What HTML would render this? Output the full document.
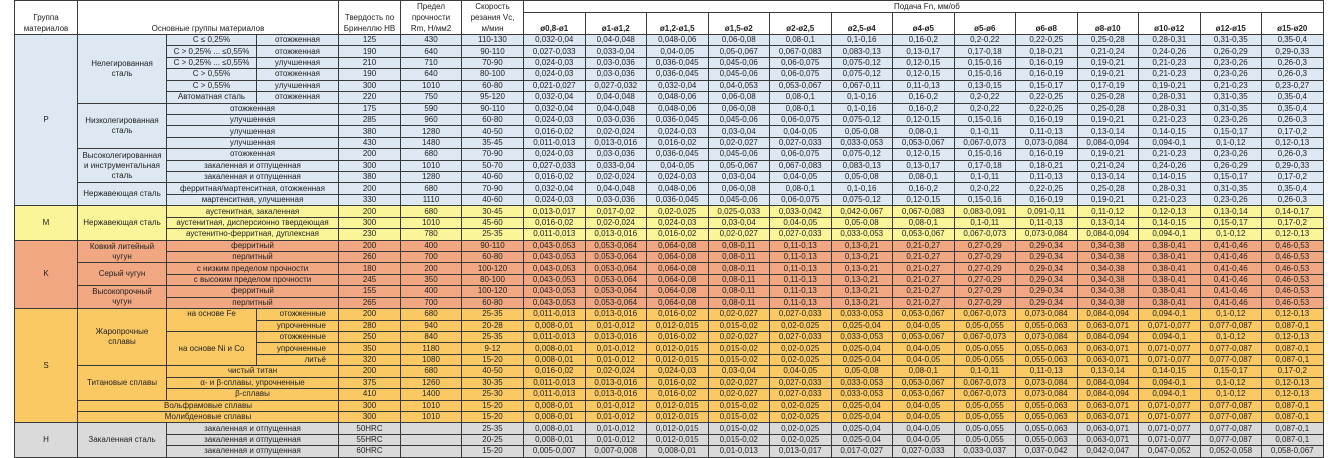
<!DOCTYPE html>
<html><head><meta charset="utf-8"><style>
body{margin:0;width:1334px;height:458px;background:#fff;overflow:hidden;font-family:"Liberation Sans",Arial,sans-serif;}
table{position:absolute;left:14px;top:0;border-collapse:collapse;table-layout:fixed;font-size:8px;color:#222;}
td{border:1px solid #3a3a3a;padding:0;text-align:center;white-space:nowrap;overflow:hidden;line-height:10px;}
tr.d{height:11.43px}
.p td{background:#dde8f3}.m td{background:#fbf59a}.k td{background:#f1a782}.s td{background:#fbc964}.h td{background:#dadada}
.hd td{background:#fff}
</style></head><body>
<table>
<colgroup><col style="width:63px"><col style="width:89px"><col style="width:90px"><col style="width:82px"><col style="width:62px"><col style="width:61px"><col style="width:62px">
<col style="width:61.5px"><col style="width:61.5px"><col style="width:61.5px"><col style="width:61.5px"><col style="width:61.5px"><col style="width:61.5px"><col style="width:61.5px"><col style="width:61.5px"><col style="width:61.5px"><col style="width:61.5px"><col style="width:61.5px"><col style="width:61.5px"><col style="width:61.5px"></colgroup>
<tr class="hd" style="height:12px"><td rowspan="2" style="vertical-align:bottom;line-height:11px">Группа<br>материалов</td><td rowspan="2" colspan="3" style="vertical-align:bottom">Основные группы материалов</td><td rowspan="2" style="vertical-align:bottom;line-height:11px">Твердость по<br>Бринеллю HB</td><td rowspan="2" style="vertical-align:bottom;line-height:11px">Предел<br>прочности<br>Rm, Н/мм2</td><td rowspan="2" style="vertical-align:bottom;line-height:11px">Скорость<br>резания Vc,<br>м/мин</td><td colspan="13" style="text-align:left;padding-left:370px">Подача Fn, мм/об</td></tr>
<tr class="hd" style="height:22px;font-weight:bold"><td style="vertical-align:bottom">ø0,8-ø1</td><td style="vertical-align:bottom">ø1-ø1,2</td><td style="vertical-align:bottom">ø1,2-ø1,5</td><td style="vertical-align:bottom">ø1,5-ø2</td><td style="vertical-align:bottom">ø2-ø2,5</td><td style="vertical-align:bottom">ø2,5-ø4</td><td style="vertical-align:bottom">ø4-ø5</td><td style="vertical-align:bottom">ø5-ø6</td><td style="vertical-align:bottom">ø6-ø8</td><td style="vertical-align:bottom">ø8-ø10</td><td style="vertical-align:bottom">ø10-ø12</td><td style="vertical-align:bottom">ø12-ø15</td><td style="vertical-align:bottom">ø15-ø20</td></tr>

<tr class="d p"><td rowspan="15">P</td><td rowspan="6">Нелегированная<br>сталь</td><td>C ≤ 0,25%</td><td>отожженная</td><td>125</td><td>430</td><td>110-130</td><td>0,032-0,04</td><td>0,04-0,048</td><td>0,048-0,06</td><td>0,06-0,08</td><td>0,08-0,1</td><td>0,1-0,16</td><td>0,16-0,2</td><td>0,2-0,22</td><td>0,22-0,25</td><td>0,25-0,28</td><td>0,28-0,31</td><td>0,31-0,35</td><td>0,35-0,4</td></tr>
<tr class="d p"><td>C &gt; 0,25% ... ≤0,55%</td><td>отожженная</td><td>190</td><td>640</td><td>90-110</td><td>0,027-0,033</td><td>0,033-0,04</td><td>0,04-0,05</td><td>0,05-0,067</td><td>0,067-0,083</td><td>0,083-0,13</td><td>0,13-0,17</td><td>0,17-0,18</td><td>0,18-0,21</td><td>0,21-0,24</td><td>0,24-0,26</td><td>0,26-0,29</td><td>0,29-0,33</td></tr>
<tr class="d p"><td>C &gt; 0,25% ... ≤0,55%</td><td>улучшенная</td><td>210</td><td>710</td><td>70-90</td><td>0,024-0,03</td><td>0,03-0,036</td><td>0,036-0,045</td><td>0,045-0,06</td><td>0,06-0,075</td><td>0,075-0,12</td><td>0,12-0,15</td><td>0,15-0,16</td><td>0,16-0,19</td><td>0,19-0,21</td><td>0,21-0,23</td><td>0,23-0,26</td><td>0,26-0,3</td></tr>
<tr class="d p"><td>C &gt; 0,55%</td><td>отожженная</td><td>190</td><td>640</td><td>80-100</td><td>0,024-0,03</td><td>0,03-0,036</td><td>0,036-0,045</td><td>0,045-0,06</td><td>0,06-0,075</td><td>0,075-0,12</td><td>0,12-0,15</td><td>0,15-0,16</td><td>0,16-0,19</td><td>0,19-0,21</td><td>0,21-0,23</td><td>0,23-0,26</td><td>0,26-0,3</td></tr>
<tr class="d p"><td>C &gt; 0,55%</td><td>улучшенная</td><td>300</td><td>1010</td><td>60-80</td><td>0,021-0,027</td><td>0,027-0,032</td><td>0,032-0,04</td><td>0,04-0,053</td><td>0,053-0,067</td><td>0,067-0,11</td><td>0,11-0,13</td><td>0,13-0,15</td><td>0,15-0,17</td><td>0,17-0,19</td><td>0,19-0,21</td><td>0,21-0,23</td><td>0,23-0,27</td></tr>
<tr class="d p"><td>Автоматная сталь</td><td>отожженная</td><td>220</td><td>750</td><td>95-120</td><td>0,032-0,04</td><td>0,04-0,048</td><td>0,048-0,06</td><td>0,06-0,08</td><td>0,08-0,1</td><td>0,1-0,16</td><td>0,16-0,2</td><td>0,2-0,22</td><td>0,22-0,25</td><td>0,25-0,28</td><td>0,28-0,31</td><td>0,31-0,35</td><td>0,35-0,4</td></tr>
<tr class="d p"><td rowspan="4">Низколегированная<br>сталь</td><td colspan="2">отожженная</td><td>175</td><td>590</td><td>90-110</td><td>0,032-0,04</td><td>0,04-0,048</td><td>0,048-0,06</td><td>0,06-0,08</td><td>0,08-0,1</td><td>0,1-0,16</td><td>0,16-0,2</td><td>0,2-0,22</td><td>0,22-0,25</td><td>0,25-0,28</td><td>0,28-0,31</td><td>0,31-0,35</td><td>0,35-0,4</td></tr>
<tr class="d p"><td colspan="2">улучшенная</td><td>285</td><td>960</td><td>60-80</td><td>0,024-0,03</td><td>0,03-0,036</td><td>0,036-0,045</td><td>0,045-0,06</td><td>0,06-0,075</td><td>0,075-0,12</td><td>0,12-0,15</td><td>0,15-0,16</td><td>0,16-0,19</td><td>0,19-0,21</td><td>0,21-0,23</td><td>0,23-0,26</td><td>0,26-0,3</td></tr>
<tr class="d p"><td colspan="2">улучшенная</td><td>380</td><td>1280</td><td>40-50</td><td>0,016-0,02</td><td>0,02-0,024</td><td>0,024-0,03</td><td>0,03-0,04</td><td>0,04-0,05</td><td>0,05-0,08</td><td>0,08-0,1</td><td>0,1-0,11</td><td>0,11-0,13</td><td>0,13-0,14</td><td>0,14-0,15</td><td>0,15-0,17</td><td>0,17-0,2</td></tr>
<tr class="d p"><td colspan="2">улучшенная</td><td>430</td><td>1480</td><td>35-45</td><td>0,011-0,013</td><td>0,013-0,016</td><td>0,016-0,02</td><td>0,02-0,027</td><td>0,027-0,033</td><td>0,033-0,053</td><td>0,053-0,067</td><td>0,067-0,073</td><td>0,073-0,084</td><td>0,084-0,094</td><td>0,094-0,1</td><td>0,1-0,12</td><td>0,12-0,13</td></tr>
<tr class="d p"><td rowspan="3">Высоколегированная<br>и инструментальная<br>сталь</td><td colspan="2">отожженная</td><td>200</td><td>680</td><td>70-90</td><td>0,024-0,03</td><td>0,03-0,036</td><td>0,036-0,045</td><td>0,045-0,06</td><td>0,06-0,075</td><td>0,075-0,12</td><td>0,12-0,15</td><td>0,15-0,16</td><td>0,16-0,19</td><td>0,19-0,21</td><td>0,21-0,23</td><td>0,23-0,26</td><td>0,26-0,3</td></tr>
<tr class="d p"><td colspan="2">закаленная и отпущенная</td><td>300</td><td>1010</td><td>50-70</td><td>0,027-0,033</td><td>0,033-0,04</td><td>0,04-0,05</td><td>0,05-0,067</td><td>0,067-0,083</td><td>0,083-0,13</td><td>0,13-0,17</td><td>0,17-0,18</td><td>0,18-0,21</td><td>0,21-0,24</td><td>0,24-0,26</td><td>0,26-0,29</td><td>0,29-0,33</td></tr>
<tr class="d p"><td colspan="2">закаленная и отпущенная</td><td>380</td><td>1280</td><td>40-60</td><td>0,016-0,02</td><td>0,02-0,024</td><td>0,024-0,03</td><td>0,03-0,04</td><td>0,04-0,05</td><td>0,05-0,08</td><td>0,08-0,1</td><td>0,1-0,11</td><td>0,11-0,13</td><td>0,13-0,14</td><td>0,14-0,15</td><td>0,15-0,17</td><td>0,17-0,2</td></tr>
<tr class="d p"><td rowspan="2">Нержавеющая сталь</td><td colspan="2">ферритная/мартенситная, отожженная</td><td>200</td><td>680</td><td>70-90</td><td>0,032-0,04</td><td>0,04-0,048</td><td>0,048-0,06</td><td>0,06-0,08</td><td>0,08-0,1</td><td>0,1-0,16</td><td>0,16-0,2</td><td>0,2-0,22</td><td>0,22-0,25</td><td>0,25-0,28</td><td>0,28-0,31</td><td>0,31-0,35</td><td>0,35-0,4</td></tr>
<tr class="d p"><td colspan="2">мартенситная, улучшенная</td><td>330</td><td>1110</td><td>40-60</td><td>0,024-0,03</td><td>0,03-0,036</td><td>0,036-0,045</td><td>0,045-0,06</td><td>0,06-0,075</td><td>0,075-0,12</td><td>0,12-0,15</td><td>0,15-0,16</td><td>0,16-0,19</td><td>0,19-0,21</td><td>0,21-0,23</td><td>0,23-0,26</td><td>0,26-0,3</td></tr>

<tr class="d m"><td rowspan="3">M</td><td rowspan="3">Нержавеющая сталь</td><td colspan="2">аустенитная, закаленная</td><td>200</td><td>680</td><td>30-45</td><td>0,013-0,017</td><td>0,017-0,02</td><td>0,02-0,025</td><td>0,025-0,033</td><td>0,033-0,042</td><td>0,042-0,067</td><td>0,067-0,083</td><td>0,083-0,091</td><td>0,091-0,11</td><td>0,11-0,12</td><td>0,12-0,13</td><td>0,13-0,14</td><td>0,14-0,17</td></tr>
<tr class="d m"><td colspan="2">аустенитная, дисперсионно твердеющая</td><td>300</td><td>1010</td><td>45-60</td><td>0,016-0,02</td><td>0,02-0,024</td><td>0,024-0,03</td><td>0,03-0,04</td><td>0,04-0,05</td><td>0,05-0,08</td><td>0,08-0,1</td><td>0,1-0,11</td><td>0,11-0,13</td><td>0,13-0,14</td><td>0,14-0,15</td><td>0,15-0,17</td><td>0,17-0,2</td></tr>
<tr class="d m"><td colspan="2">аустенитно-ферритная, дуплексная</td><td>230</td><td>780</td><td>25-35</td><td>0,011-0,013</td><td>0,013-0,016</td><td>0,016-0,02</td><td>0,02-0,027</td><td>0,027-0,033</td><td>0,033-0,053</td><td>0,053-0,067</td><td>0,067-0,073</td><td>0,073-0,084</td><td>0,084-0,094</td><td>0,094-0,1</td><td>0,1-0,12</td><td>0,12-0,13</td></tr>

<tr class="d k"><td rowspan="6">K</td><td rowspan="2">Ковкий литейный<br>чугун</td><td colspan="2">ферритный</td><td>200</td><td>400</td><td>90-110</td><td>0,043-0,053</td><td>0,053-0,064</td><td>0,064-0,08</td><td>0,08-0,11</td><td>0,11-0,13</td><td>0,13-0,21</td><td>0,21-0,27</td><td>0,27-0,29</td><td>0,29-0,34</td><td>0,34-0,38</td><td>0,38-0,41</td><td>0,41-0,46</td><td>0,46-0,53</td></tr>
<tr class="d k"><td colspan="2">перлитный</td><td>260</td><td>700</td><td>60-80</td><td>0,043-0,053</td><td>0,053-0,064</td><td>0,064-0,08</td><td>0,08-0,11</td><td>0,11-0,13</td><td>0,13-0,21</td><td>0,21-0,27</td><td>0,27-0,29</td><td>0,29-0,34</td><td>0,34-0,38</td><td>0,38-0,41</td><td>0,41-0,46</td><td>0,46-0,53</td></tr>
<tr class="d k"><td rowspan="2">Серый чугун</td><td colspan="2">с низким пределом прочности</td><td>180</td><td>200</td><td>100-120</td><td>0,043-0,053</td><td>0,053-0,064</td><td>0,064-0,08</td><td>0,08-0,11</td><td>0,11-0,13</td><td>0,13-0,21</td><td>0,21-0,27</td><td>0,27-0,29</td><td>0,29-0,34</td><td>0,34-0,38</td><td>0,38-0,41</td><td>0,41-0,46</td><td>0,46-0,53</td></tr>
<tr class="d k"><td colspan="2">с высоким пределом прочности</td><td>245</td><td>350</td><td>80-100</td><td>0,043-0,053</td><td>0,053-0,064</td><td>0,064-0,08</td><td>0,08-0,11</td><td>0,11-0,13</td><td>0,13-0,21</td><td>0,21-0,27</td><td>0,27-0,29</td><td>0,29-0,34</td><td>0,34-0,38</td><td>0,38-0,41</td><td>0,41-0,46</td><td>0,46-0,53</td></tr>
<tr class="d k"><td rowspan="2">Высокопрочный<br>чугун</td><td colspan="2">ферритный</td><td>155</td><td>400</td><td>100-120</td><td>0,043-0,053</td><td>0,053-0,064</td><td>0,064-0,08</td><td>0,08-0,11</td><td>0,11-0,13</td><td>0,13-0,21</td><td>0,21-0,27</td><td>0,27-0,29</td><td>0,29-0,34</td><td>0,34-0,38</td><td>0,38-0,41</td><td>0,41-0,46</td><td>0,46-0,53</td></tr>
<tr class="d k"><td colspan="2">перлитный</td><td>265</td><td>700</td><td>60-80</td><td>0,043-0,053</td><td>0,053-0,064</td><td>0,064-0,08</td><td>0,08-0,11</td><td>0,11-0,13</td><td>0,13-0,21</td><td>0,21-0,27</td><td>0,27-0,29</td><td>0,29-0,34</td><td>0,34-0,38</td><td>0,38-0,41</td><td>0,41-0,46</td><td>0,46-0,53</td></tr>

<tr class="d s"><td rowspan="10">S</td><td rowspan="5">Жаропрочные<br>сплавы</td><td rowspan="2" style="vertical-align:top">на основе Fe</td><td style="text-align:right;padding-right:12px">отожженные</td><td>200</td><td>680</td><td>25-35</td><td>0,011-0,013</td><td>0,013-0,016</td><td>0,016-0,02</td><td>0,02-0,027</td><td>0,027-0,033</td><td>0,033-0,053</td><td>0,053-0,067</td><td>0,067-0,073</td><td>0,073-0,084</td><td>0,084-0,094</td><td>0,094-0,1</td><td>0,1-0,12</td><td>0,12-0,13</td></tr>
<tr class="d s"><td style="text-align:right;padding-right:12px">упрочненные</td><td>280</td><td>940</td><td>20-28</td><td>0,008-0,01</td><td>0,01-0,012</td><td>0,012-0,015</td><td>0,015-0,02</td><td>0,02-0,025</td><td>0,025-0,04</td><td>0,04-0,05</td><td>0,05-0,055</td><td>0,055-0,063</td><td>0,063-0,071</td><td>0,071-0,077</td><td>0,077-0,087</td><td>0,087-0,1</td></tr>
<tr class="d s"><td rowspan="3">на основе Ni и Co</td><td style="text-align:right;padding-right:12px">отожженные</td><td>250</td><td>840</td><td>25-35</td><td>0,011-0,013</td><td>0,013-0,016</td><td>0,016-0,02</td><td>0,02-0,027</td><td>0,027-0,033</td><td>0,033-0,053</td><td>0,053-0,067</td><td>0,067-0,073</td><td>0,073-0,084</td><td>0,084-0,094</td><td>0,094-0,1</td><td>0,1-0,12</td><td>0,12-0,13</td></tr>
<tr class="d s"><td style="text-align:right;padding-right:12px">упрочненные</td><td>350</td><td>1180</td><td>9-12</td><td>0,008-0,01</td><td>0,01-0,012</td><td>0,012-0,015</td><td>0,015-0,02</td><td>0,02-0,025</td><td>0,025-0,04</td><td>0,04-0,05</td><td>0,05-0,055</td><td>0,055-0,063</td><td>0,063-0,071</td><td>0,071-0,077</td><td>0,077-0,087</td><td>0,087-0,1</td></tr>
<tr class="d s"><td style="text-align:right;padding-right:12px">литьё</td><td>320</td><td>1080</td><td>15-20</td><td>0,008-0,01</td><td>0,01-0,012</td><td>0,012-0,015</td><td>0,015-0,02</td><td>0,02-0,025</td><td>0,025-0,04</td><td>0,04-0,05</td><td>0,05-0,055</td><td>0,055-0,063</td><td>0,063-0,071</td><td>0,071-0,077</td><td>0,077-0,087</td><td>0,087-0,1</td></tr>
<tr class="d s"><td rowspan="3">Титановые сплавы</td><td colspan="2">чистый титан</td><td>200</td><td>680</td><td>40-50</td><td>0,016-0,02</td><td>0,02-0,024</td><td>0,024-0,03</td><td>0,03-0,04</td><td>0,04-0,05</td><td>0,05-0,08</td><td>0,08-0,1</td><td>0,1-0,11</td><td>0,11-0,13</td><td>0,13-0,14</td><td>0,14-0,15</td><td>0,15-0,17</td><td>0,17-0,2</td></tr>
<tr class="d s"><td colspan="2">α- и β-сплавы, упрочненные</td><td>375</td><td>1260</td><td>30-35</td><td>0,011-0,013</td><td>0,013-0,016</td><td>0,016-0,02</td><td>0,02-0,027</td><td>0,027-0,033</td><td>0,033-0,053</td><td>0,053-0,067</td><td>0,067-0,073</td><td>0,073-0,084</td><td>0,084-0,094</td><td>0,094-0,1</td><td>0,1-0,12</td><td>0,12-0,13</td></tr>
<tr class="d s"><td colspan="2">β-сплавы</td><td>410</td><td>1400</td><td>25-30</td><td>0,011-0,013</td><td>0,013-0,016</td><td>0,016-0,02</td><td>0,02-0,027</td><td>0,027-0,033</td><td>0,033-0,053</td><td>0,053-0,067</td><td>0,067-0,073</td><td>0,073-0,084</td><td>0,084-0,094</td><td>0,094-0,1</td><td>0,1-0,12</td><td>0,12-0,13</td></tr>
<tr class="d s"><td colspan="3">Вольфрамовые сплавы</td><td>300</td><td>1010</td><td>15-20</td><td>0,008-0,01</td><td>0,01-0,012</td><td>0,012-0,015</td><td>0,015-0,02</td><td>0,02-0,025</td><td>0,025-0,04</td><td>0,04-0,05</td><td>0,05-0,055</td><td>0,055-0,063</td><td>0,063-0,071</td><td>0,071-0,077</td><td>0,077-0,087</td><td>0,087-0,1</td></tr>
<tr class="d s"><td colspan="3">Молибденовые сплавы</td><td>300</td><td>1010</td><td>15-20</td><td>0,008-0,01</td><td>0,01-0,012</td><td>0,012-0,015</td><td>0,015-0,02</td><td>0,02-0,025</td><td>0,025-0,04</td><td>0,04-0,05</td><td>0,05-0,055</td><td>0,055-0,063</td><td>0,063-0,071</td><td>0,071-0,077</td><td>0,077-0,087</td><td>0,087-0,1</td></tr>

<tr class="d h"><td rowspan="3">H</td><td rowspan="3">Закаленная сталь</td><td colspan="2">закаленная и отпущенная</td><td>50HRC</td><td></td><td>25-35</td><td>0,008-0,01</td><td>0,01-0,012</td><td>0,012-0,015</td><td>0,015-0,02</td><td>0,02-0,025</td><td>0,025-0,04</td><td>0,04-0,05</td><td>0,05-0,055</td><td>0,055-0,063</td><td>0,063-0,071</td><td>0,071-0,077</td><td>0,077-0,087</td><td>0,087-0,1</td></tr>
<tr class="d h"><td colspan="2">закаленная и отпущенная</td><td>55HRC</td><td></td><td>20-25</td><td>0,008-0,01</td><td>0,01-0,012</td><td>0,012-0,015</td><td>0,015-0,02</td><td>0,02-0,025</td><td>0,025-0,04</td><td>0,04-0,05</td><td>0,05-0,055</td><td>0,055-0,063</td><td>0,063-0,071</td><td>0,071-0,077</td><td>0,077-0,087</td><td>0,087-0,1</td></tr>
<tr class="d h"><td colspan="2">закаленная и отпущенная</td><td>60HRC</td><td></td><td>15-20</td><td>0,005-0,007</td><td>0,007-0,008</td><td>0,008-0,01</td><td>0,01-0,013</td><td>0,013-0,017</td><td>0,017-0,027</td><td>0,027-0,033</td><td>0,033-0,037</td><td>0,037-0,042</td><td>0,042-0,047</td><td>0,047-0,052</td><td>0,052-0,058</td><td>0,058-0,067</td></tr>
</table>
</body></html>
